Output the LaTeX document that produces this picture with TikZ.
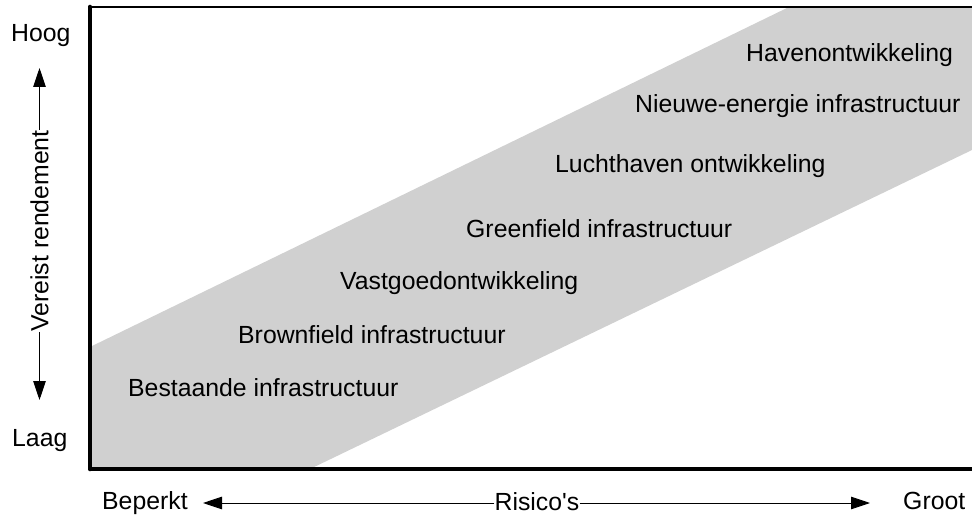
\documentclass[tikz,border=0pt]{standalone}
\usepackage{fontspec}
\setmainfont{Liberation Sans}
\newfontfamily\plainquotes{Liberation Sans}[Ligatures=TeXOff]
\usetikzlibrary{arrows.meta}
\definecolor{bandgray}{RGB}{208,208,208}
\begin{document}
\begin{tikzpicture}[x=1bp,y=-1bp,
  lbl/.style={font=\fontsize{24.8bp}{30bp}\selectfont, inner sep=0pt, anchor=base west},
  axislbl/.style={font=\fontsize{24.8bp}{30bp}\selectfont, inner sep=0pt, anchor=center},
  axis/.style={line width=4.6bp},
  frame/.style={line width=1.1bp},
  pointer/.style={line width=0.9bp, -{Triangle[length=19bp,width=12.5bp]}},
]
\useasboundingbox (0,0) rectangle (972,515);

% grey band of risk/return combinations
\fill[bandgray] (90,469) -- (310,469) -- (972,150) -- (972,7) -- (789,7) -- (90,347) -- cycle;

% plot frame and axes
\draw[frame] (90,7) -- (972,7);
\draw[axis, line cap=round] (90,7) -- (90,469);
\draw[axis] (90,469) -- (972,469);

% investment categories
\node[lbl] (haven)  at (746,62)  {Havenontwikkeling};
\node[lbl] (energy) at (635,113) {Nieuwe-energie infrastructuur};
\node[lbl] (lucht)  at (555,173) {Luchthaven ontwikkeling};
\node[lbl] (green)  at (466,238) {Greenfield infrastructuur};
\node[lbl] (vast)   at (340,290) {Vastgoedontwikkeling};
\node[lbl] (brown)  at (238,344) {Brownfield infrastructuur};
\node[lbl] (best)   at (128,396) {Bestaande infrastructuur};

% vertical axis: required return
\node[lbl] (hoog) at (11,42)  {Hoog};
\node[lbl] (laag) at (12,446) {Laag};
\node[axislbl, rotate=90] (rend) at (39.5,231) {Vereist rendement};
\coordinate (vtop) at (39.5,68);
\coordinate (vbot) at (39.5,400);
\draw[pointer] (rend.east) -- (vtop);
\draw[pointer] (rend.west) -- (vbot);

% horizontal axis: risk
\node[lbl] (beperkt) at (102,509.5) {Beperkt};
\node[lbl] (groot)   at (903,509.5) {Groot};
\node[axislbl, font=\fontsize{24.8bp}{30bp}\plainquotes] (risk) at (537,502) {Risico's};
\coordinate (hleft)  at (203,503);
\coordinate (hright) at (870,503);
\draw[pointer] (risk.west |- hleft) -- (hleft);
\draw[pointer] (risk.east |- hright) -- (hright);
\end{tikzpicture}
\end{document}
